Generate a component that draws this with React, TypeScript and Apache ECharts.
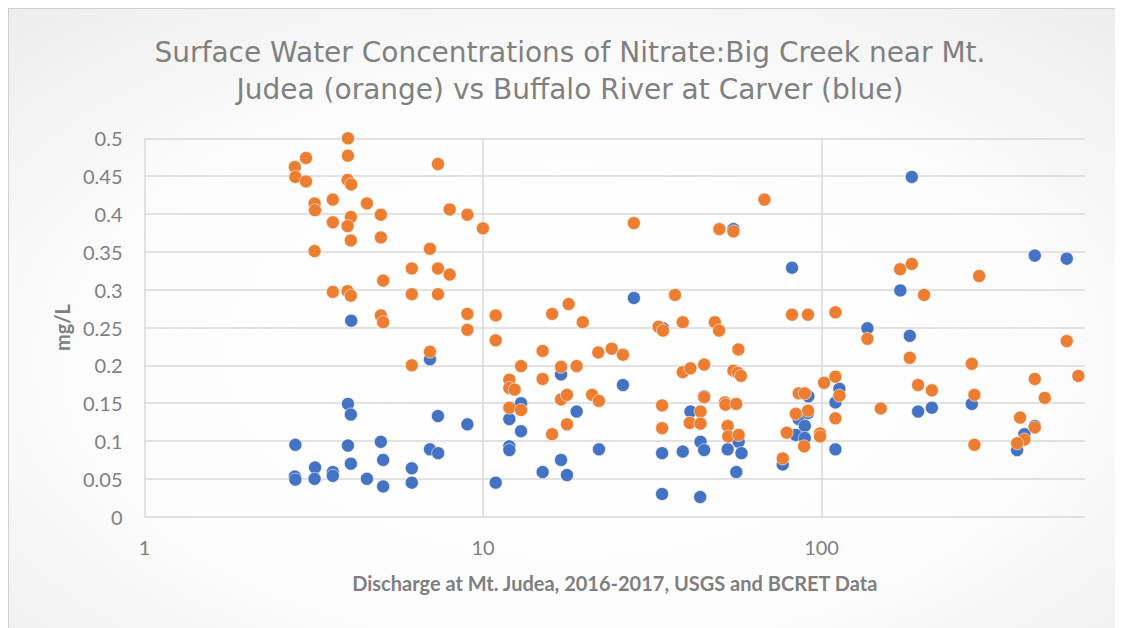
import React, { useEffect, useRef } from "react";
import * as echarts from "echarts";

const chartTitle =
  "Surface Water Concentrations of Nitrate:Big Creek near Mt.\nJudea (orange) vs Buffalo River at Carver (blue)";
const xAxisTitle = "Discharge at Mt. Judea, 2016-2017, USGS and BCRET Data";
const yAxisTitle = "mg/L";

const xTickLabels = ["1", "10", "100"];
const xAxisMin = 1;
const xAxisMax = 600;
const yAxisMin = 0;
const yAxisMax = 0.5;
const yAxisStep = 0.05;

// Big Creek near Mt. Judea (orange): discharge, nitrate mg/L
const bigCreekDischarge = [
  3.99, 3.0, 2.78, 2.79, 3.0, 3.99, 3.98, 4.08, 7.36, 3.18,
  3.19, 3.6, 4.54, 4.99, 4.07, 3.98, 3.6, 4.07, 4.99, 7.97,
  8.99, 9.99, 3.18, 6.97, 6.16, 7.36, 7.97, 5.07, 3.6, 3.98,
  4.07, 6.16, 7.36, 8.99, 4.99, 5.07, 8.99, 6.97, 6.16, 27.9,
  67.8, 49.9, 54.9, 36.9, 17.9, 16.0, 10.9, 81.8, 91.2, 19.7,
  33.0, 34.0, 38.9, 48.4, 49.8, 10.9, 15.0, 21.9, 24.0, 25.9,
  12.95, 17.0, 18.9, 11.96, 11.96, 12.4, 15.0, 17.0, 17.7, 21.0,
  22.0, 11.96, 12.95, 17.7, 16.0, 38.9, 41.0, 45.0, 56.8, 54.9,
  56.6, 57.8, 33.8, 33.8, 45.0, 43.9, 40.8, 43.9, 51.8, 52.0,
  56.0, 52.8, 53.0, 56.9, 101.7, 85.6, 89.2, 91.2, 83.9, 78.9,
  99.0, 99.0, 88.8, 76.8, 109.9, 136.6, 182.2, 277.8, 530, 109.9,
  112.9, 192.8, 211.7, 149.6, 282.8, 426.4, 573.6, 456.4, 109.9, 385.9,
  426.4, 397.3, 378.1, 282.8, 170.6, 184.7, 292, 200.8,
];
const bigCreekNitrate = [
  0.5, 0.474, 0.462, 0.449, 0.443, 0.477, 0.445, 0.439, 0.466, 0.414,
  0.405, 0.419, 0.414, 0.399, 0.396, 0.384, 0.389, 0.365, 0.369, 0.406,
  0.399, 0.381, 0.351, 0.354, 0.328, 0.328, 0.32, 0.312, 0.297, 0.298,
  0.292, 0.294, 0.294, 0.268, 0.266, 0.257, 0.247, 0.218, 0.2, 0.388,
  0.419, 0.38, 0.377, 0.293, 0.281, 0.268, 0.266, 0.267, 0.267, 0.257,
  0.251, 0.246, 0.257, 0.257, 0.246, 0.233, 0.219, 0.217, 0.222, 0.214,
  0.199, 0.198, 0.199, 0.181, 0.17, 0.168, 0.182, 0.155, 0.161, 0.161,
  0.153, 0.144, 0.141, 0.122, 0.109, 0.191, 0.196, 0.201, 0.221, 0.193,
  0.19, 0.186, 0.147, 0.117, 0.158, 0.139, 0.124, 0.123, 0.151, 0.148,
  0.149, 0.12, 0.106, 0.108, 0.177, 0.163, 0.163, 0.14, 0.136, 0.111,
  0.11, 0.106, 0.093, 0.077, 0.27, 0.235, 0.21, 0.202, 0.232, 0.185,
  0.16, 0.174, 0.167, 0.143, 0.161, 0.182, 0.186, 0.157, 0.13, 0.131,
  0.118, 0.102, 0.097, 0.095, 0.327, 0.334, 0.318, 0.293,
];

// Buffalo River at Carver (blue): Mt. Judea discharge, nitrate mg/L
const buffaloDischarge = [
  4.08, 6.97, 3.99, 4.07, 7.36, 8.99, 2.79, 3.99, 4.99, 6.97,
  7.37, 4.07, 5.07, 6.16, 3.19, 3.6, 3.6, 2.78, 2.79, 3.18,
  4.54, 5.07, 6.16, 27.9, 54.9, 81.8, 34.0, 10.9, 11.96, 12.95,
  12.95, 11.96, 11.96, 15.0, 17.0, 17.0, 17.7, 18.9, 22.0, 25.9,
  33.8, 33.8, 38.9, 41.0, 45.0, 43.9, 45.0, 43.8, 52.8, 56.9,
  58.0, 56.0, 76.8, 91.4, 85.6, 89.2, 91.2, 83.9, 89.2, 136.6,
  182.2, 112.9, 109.9, 192.8, 211.7, 277.8, 109.9, 426.4, 397.3, 378.1,
  184.7, 426.4, 530, 170.9,
];
const buffaloNitrate = [
  0.259, 0.208, 0.149, 0.135, 0.133, 0.122, 0.095, 0.094, 0.099, 0.089,
  0.084, 0.07, 0.075, 0.064, 0.065, 0.059, 0.054, 0.053, 0.049, 0.05,
  0.05, 0.04, 0.045, 0.289, 0.38, 0.329, 0.249, 0.045, 0.129, 0.15,
  0.113, 0.093, 0.088, 0.059, 0.188, 0.075, 0.055, 0.139, 0.089, 0.174,
  0.084, 0.03, 0.086, 0.139, 0.159, 0.099, 0.088, 0.026, 0.089, 0.099,
  0.084, 0.059, 0.069, 0.159, 0.129, 0.12, 0.137, 0.108, 0.104, 0.249,
  0.239, 0.169, 0.151, 0.139, 0.144, 0.149, 0.089, 0.12, 0.109, 0.088,
  0.449, 0.345, 0.341, 0.299,
];

const ORANGE = "#ED7D31";
const BLUE = "#4472C4";
const GRID = "#d9d9d9";
const TEXT = "#7f7f7f";

function pairs(xs: number[], ys: number[]) {
  return xs.map((x, i) => [x, ys[i]]);
}

export default function App() {
  const ref = useRef<HTMLDivElement>(null);

  useEffect(() => {
    if (!ref.current) return;
    const chart = echarts.init(ref.current, undefined, { renderer: "svg" });
    const markerStyle = (color: string) => ({
      color,
      borderColor: "rgba(255,255,255,0.7)",
      borderWidth: 0.8,
      opacity: 1,
    });
    chart.setOption({
      animation: false,
      backgroundColor: {
        type: "radial",
        x: 0.5,
        y: 0.55,
        r: 0.75,
        colorStops: [
          { offset: 0, color: "#ffffff" },
          { offset: 0.55, color: "#fdfdfd" },
          { offset: 1, color: "#ececec" },
        ],
      },
      title: {
        text: chartTitle,
        left: "center",
        top: 21,
        textStyle: {
          fontFamily: "DejaVu Sans",
          fontSize: 28,
          fontWeight: "normal",
          color: "#808080",
          lineHeight: 37,
        },
      },
      grid: { left: 136.5, right: 47, top: 130.3, bottom: 131.3 },
      xAxis: {
        type: "log",
        logBase: 10,
        min: xAxisMin,
        max: xAxisMax,
        name: xAxisTitle,
        nameLocation: "middle",
        nameGap: 56,
        nameTextStyle: {
          fontFamily: "Lato",
          fontSize: 20,
          fontWeight: "bold",
          color: TEXT,
        },
        axisLine: { show: false },
        axisTick: { show: false },
        axisLabel: {
          fontFamily: "Lato",
          fontSize: 20,
          color: TEXT,
          margin: 20,
          showMaxLabel: false,
          formatter: (v: number) => {
            const s = String(Math.round(v));
            return xTickLabels.includes(s) ? s : "";
          },
        },
        splitLine: {
          show: true,
          showMaxLine: false,
          lineStyle: { color: GRID, width: 1.5 },
        },
      },
      yAxis: {
        type: "value",
        min: yAxisMin,
        max: yAxisMax,
        interval: yAxisStep,
        name: yAxisTitle,
        nameLocation: "middle",
        nameGap: 72,
        nameTextStyle: {
          fontFamily: "Lato",
          fontSize: 20,
          fontWeight: "bold",
          color: TEXT,
        },
        axisLine: { show: false },
        axisTick: { show: false },
        axisLabel: {
          fontFamily: "Lato",
          fontSize: 20,
          color: TEXT,
          margin: 22,
          formatter: (v: number) => String(parseFloat(v.toFixed(2))),
        },
        splitLine: { show: true, lineStyle: { color: GRID, width: 1.5 } },
      },
      series: [
        {
          name: "Buffalo River at Carver",
          type: "scatter",
          symbol: "circle",
          symbolSize: 13,
          itemStyle: markerStyle(BLUE),
          data: pairs(buffaloDischarge, buffaloNitrate),
        },
        {
          name: "Big Creek near Mt. Judea",
          type: "scatter",
          symbol: "circle",
          symbolSize: 13,
          itemStyle: markerStyle(ORANGE),
          data: pairs(bigCreekDischarge, bigCreekNitrate),
        },
      ],
    });
    return () => chart.dispose();
  }, []);

  return (
    <div
      style={{
        width: 1115,
        height: 620,
        overflow: "hidden",
        position: "relative",
      }}
    >
      <div
        ref={ref}
        style={{
          position: "absolute",
          left: 0,
          top: 0,
          width: 1124,
          height: 640,
        }}
      />
      <div
        style={{
          position: "absolute",
          left: 0,
          top: 0,
          width: 1124,
          height: 640,
          borderLeft: "1px solid #d0d0d0",
          borderTop: "1px solid #d0d0d0",
          boxSizing: "border-box",
          pointerEvents: "none",
        }}
      />
    </div>
  );
}
